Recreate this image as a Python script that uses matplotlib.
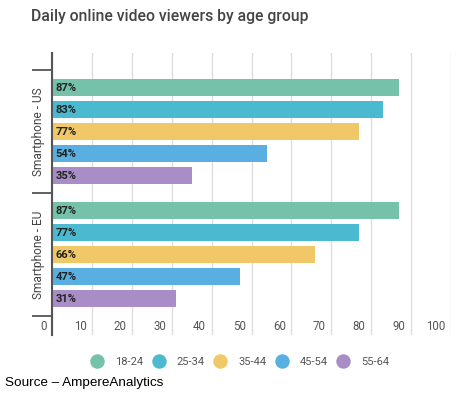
import matplotlib
matplotlib.use('Agg')
import matplotlib.pyplot as plt
from matplotlib.lines import Line2D
from matplotlib.transforms import ScaledTranslation

# data
groups = ['Smartphone - US', 'Smartphone - EU']
ages = ['18-24', '25-34', '35-44', '45-54', '55-64']
us = [87, 83, 77, 54, 35]
eu = [87, 77, 66, 47, 31]
colors = ['#76c1a9', '#4bbad1', '#f0c867', '#5aafe1', '#a88dc6']
xticks = [0, 10, 20, 30, 40, 50, 60, 70, 80, 90, 100]

plt.rcParams['font.family'] = ['Roboto', 'DejaVu Sans']

fig = plt.figure(figsize=(4.63, 3.95), dpi=100)
ax = fig.add_axes([0.113, 0.152, 0.8604, 0.7139])

gw = 5.6  # group height in bar slots
for g, vals in enumerate([us, eu]):
    for i, v in enumerate(vals):
        y = g * gw + 0.8 + i
        ax.barh(y, v, height=0.77, color=colors[i], zorder=2)
        ax.text(0.8, y, f'{v}%', va='center', ha='left', fontsize=8,
                fontweight='bold', color='#222222', zorder=3)

ax.set_xlim(0, 100)
ax.set_ylim(12.045, -0.773)
ax.set_xticks(xticks)
ax.grid(axis='x', color='#dddddd', lw=1, zorder=0)
ax.tick_params(axis='x', length=0, pad=-10.5, labelsize=8.3, labelcolor='#555555')
for lab in ax.get_xticklabels():
    lab.set_ha('right')
    lab.set_transform(lab.get_transform() + ScaledTranslation(-4 / 72, 0, fig.dpi_scale_trans))

# group boundaries as major ticks, group names on minor ticks
ax.set_yticks([0, gw, 2 * gw])
ax.set_yticklabels([])
ax.set_yticks([gw / 2, gw + gw / 2], minor=True)
ax.set_yticklabels(groups, minor=True, rotation=90, va='center', fontsize=8.6, color='#444444')
ax.tick_params(axis='y', which='major', length=14.5, width=1.3, color='#555555')
ax.tick_params(axis='y', which='minor', length=0, pad=5)

for s in ['top', 'right', 'bottom']:
    ax.spines[s].set_visible(False)
ax.spines['left'].set_color('#555555')
ax.spines['left'].set_linewidth(1.5)

fig.text(31 / 463, 1 - 16 / 395, 'Daily online video viewers by age group',
         fontsize=11.3, fontweight='medium', color='#444444', va='center', ha='left')

handles = [Line2D([], [], ls='none', marker='o', ms=9.4, color=c) for c in colors]
fig.legend(handles, ages, loc='center', bbox_to_anchor=(240 / 463, 1 - 362 / 395),
           ncol=5, frameon=False, fontsize=8, labelcolor='#555555',
           handlelength=1.2, handletextpad=1.0, columnspacing=0.8)

fig.text(5 / 463, 1 - 383 / 395, 'Source \u2013 AmpereAnalytics', fontsize=9.7,
         family='Liberation Sans', color='black', va='center', ha='left')

fig.savefig('out.png', dpi=100)
